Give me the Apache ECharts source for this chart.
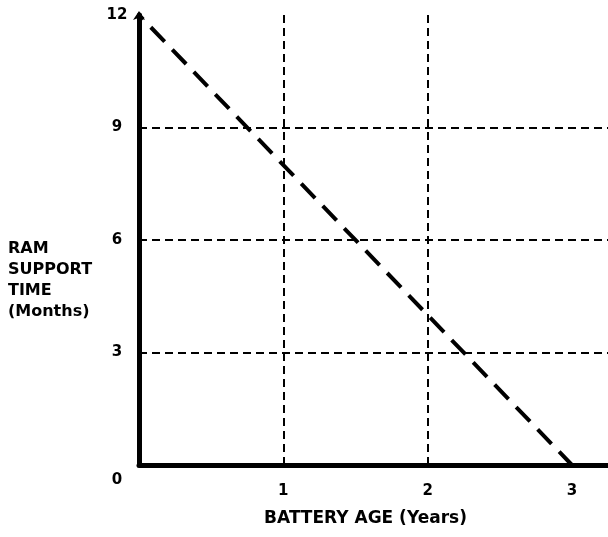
<!DOCTYPE html>
<html>
<head>
<meta charset="utf-8">
<script src="https://cdn.jsdelivr.net/npm/echarts@6/dist/echarts.min.js"></script>
<style>html,body{margin:0;padding:0;background:#fff}#c{width:608px;height:537px}</style>
</head>
<body>
<div id="c"></div>
<script>
// Data
var batteryAgeYears = [0, 3];
var ramSupportMonths = [12, 0];
var xTicks = [0, 1, 2, 3];
var yTicks = [0, 3, 6, 9, 12];
var xGridValues = [1, 2];
var yGridValues = [3, 6, 9];

var chart = echarts.init(document.getElementById('c'), null, {renderer: 'canvas'});
var font = 'DejaVu Sans';
var lineData = batteryAgeYears.map(function (x, i) { return [x, ramSupportMonths[i]]; });
var gridLines = xGridValues.map(function (v) { return {xAxis: v}; })
  .concat(yGridValues.map(function (v) { return {yAxis: v}; }));

chart.setOption({
  backgroundColor: '#fff',
  animation: false,
  title: {
    text: 'RAM\nSUPPORT\nTIME\n(Months)',
    left: 3,
    top: 233,
    textStyle: {fontFamily: font, fontSize: 16, fontWeight: 'bold', color: '#000', lineHeight: 21}
  },
  grid: {left: 139, right: 0, top: 15, bottom: 72, containLabel: false},
  xAxis: {
    type: 'value',
    min: 0,
    max: 3.25,
    interval: 1,
    name: 'BATTERY AGE (Years)',
    nameLocation: 'middle',
    nameGap: 45,
    nameTextStyle: {fontFamily: font, fontSize: 17, fontWeight: 'bold', color: '#000', padding: [0, 16, 0, 0]},
    axisLine: {show: true, onZero: false, lineStyle: {color: '#000', width: 5}},
    axisTick: {show: false},
    splitLine: {show: false},
    axisLabel: {
      showMinLabel: false,
      showMaxLabel: false,
      margin: 19,
      fontFamily: font, fontSize: 15, fontWeight: 'bold', color: '#000',
      formatter: function (v) { return xTicks.indexOf(v) >= 0 ? String(v) : ''; }
    }
  },
  yAxis: {
    type: 'value',
    min: 0,
    max: 12,
    interval: 3,
    axisLine: {show: true, onZero: false, symbol: ['none', 'arrow'], symbolSize: [9, 9], symbolOffset: [0, 4], lineStyle: {color: '#000', width: 5}},
    axisTick: {show: false},
    splitLine: {show: false},
    axisLabel: {
      margin: 22,
      align: 'center',
      fontFamily: font, fontSize: 15, fontWeight: 'bold', color: '#000',
      formatter: function (v) {
        if (yTicks.indexOf(v) < 0) return '';
        return v === 0 ? '{o|0}' : String(v);
      },
      rich: {o: {fontFamily: font, fontSize: 15, fontWeight: 'bold', color: '#000', padding: [30, 0, 0, 0]}}
    }
  },
  series: [{
    type: 'line',
    data: lineData,
    symbol: 'none',
    z: 3,
    lineStyle: {color: '#000', width: 4, type: [20, 11], dashOffset: 14},
    markLine: {
      silent: true,
      symbol: ['none', 'none'],
      label: {show: false},
      lineStyle: {color: '#000', width: 2, type: [8, 5]},
      data: gridLines
    }
  }]
});
</script>
</body>
</html>
